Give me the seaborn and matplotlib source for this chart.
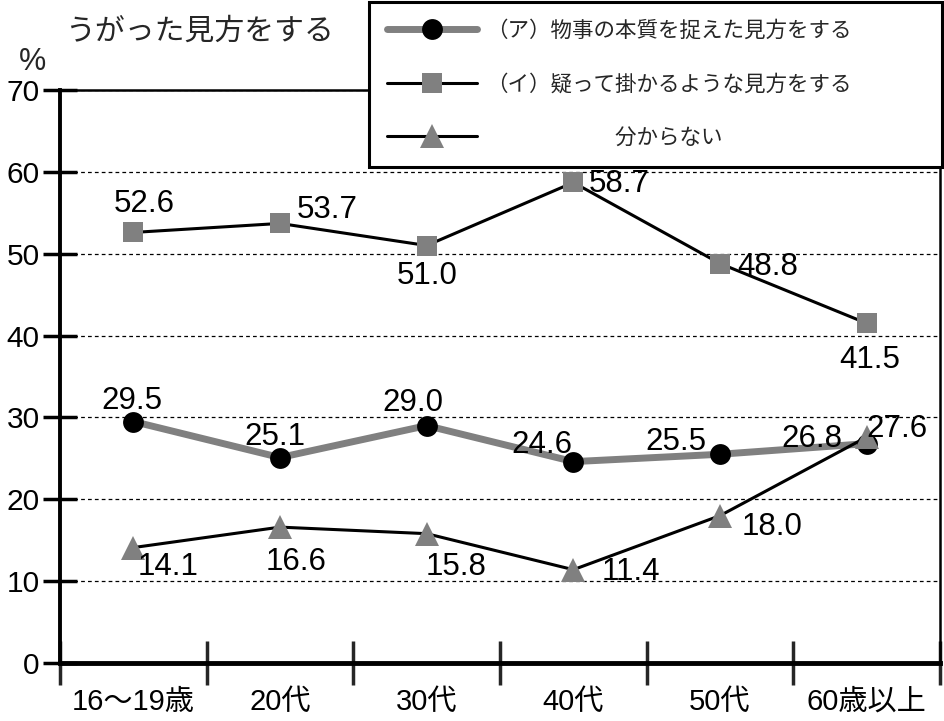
import pandas as pd
import matplotlib.pyplot as plt
import seaborn as sns

# ── データ ────────────────────────────────────────────────────────────────
ages = ["16〜19歳", "20代", "30代", "40代", "50代", "60歳以上"]
vals_a = [29.5, 25.1, 29.0, 24.6, 25.5, 26.8]   # (ア) 物事の本質を捉えた見方をする
vals_i = [52.6, 53.7, 51.0, 58.7, 48.8, 41.5]   # (イ) 疑って掛かるような見方をする
vals_u = [14.1, 16.6, 15.8, 11.4, 18.0, 27.6]   # 分からない
y_ticks = [0, 10, 20, 30, 40, 50, 60, 70]

label_a = "（ア）物事の本質を捉えた見方をする"
label_i = "（イ）疑って掛かるような見方をする"
label_u = "分からない"

# ラベル位置のずらし (pixel, 右/上が正)
off_a = [(-1, 21), (-5, 21), (-14, 23), (-31, 17), (-44, 12), (-55, 5)]
off_i = [(11, 28), (47, 13), (0, -30), (46, -2), (48, -3), (3, -37)]
off_u = [(35, -19), (16, -35), (29, -33), (58, -2), (52, -11), (30, 8)]

df = pd.DataFrame({"age": ages, "a": vals_a, "i": vals_i, "u": vals_u})

# ── スタイル ─────────────────────────────────────────────────────────────
sns.set_theme(style="white")
FONTS = ["Liberation Sans", "Noto Sans CJK JP"]
JP = ["Noto Sans CJK JP", "DejaVu Sans"]
plt.rcParams["font.family"] = FONTS

GRAY = "#808080"

fig = plt.figure(figsize=(9.45, 7.21), dpi=100)
ax = fig.add_axes([60 / 945, 1 - 663 / 721, 880 / 945, 573 / 721])

sns.lineplot(data=df, x="age", y="a", ax=ax, sort=False, errorbar=None,
             color=GRAY, linewidth=5, marker="o", markersize=15,
             markerfacecolor="black", markeredgecolor="black",
             markeredgewidth=0, label=label_a, zorder=3)
sns.lineplot(data=df, x="age", y="i", ax=ax, sort=False, errorbar=None,
             color="black", linewidth=2.2, marker="s", markersize=15,
             markerfacecolor=GRAY, markeredgecolor=GRAY,
             markeredgewidth=0, label=label_i, zorder=4)
sns.lineplot(data=df, x="age", y="u", ax=ax, sort=False, errorbar=None,
             color="black", linewidth=2.2, marker="^", markersize=17,
             markerfacecolor=GRAY, markeredgecolor=GRAY,
             markeredgewidth=0, label="\u3000" * 6 + label_u, zorder=5)

# 数値ラベル
for vals, offs in [(vals_a, off_a), (vals_i, off_i), (vals_u, off_u)]:
    for k, (v, (dx, dy)) in enumerate(zip(vals, offs)):
        ax.annotate(f"{v:.1f}", (k, v), xytext=(dx, dy),
                    textcoords="offset pixels", ha="center", va="center",
                    fontsize=22.5, color="black", zorder=6)

# ── 軸 ───────────────────────────────────────────────────────────────────
ax.set_xlim(-0.5, 5.5)
ax.set_ylim(0, 70)
ax.set_yticks(y_ticks)
ax.set_yticklabels([str(t) for t in y_ticks], fontsize=21.5)
ax.set_xticks([k - 0.5 for k in range(len(ages) + 1)])
ax.set_xticklabels([])
ax.set_xticks(range(len(ages)), minor=True)
ax.set_xticklabels(ages, minor=True, fontsize=21)
ax.tick_params(axis="y", direction="inout", length=25, width=2.5, pad=2,
               left=True, colors="black")
ax.tick_params(axis="x", which="major", direction="inout", length=31,
               width=2.5, bottom=True)
ax.tick_params(axis="x", which="minor", length=0, pad=18, colors="black")
ax.set_xlabel("")
ax.set_ylabel("")

for side, lw in [("left", 2.8), ("bottom", 3.5), ("top", 1.8), ("right", 1.8)]:
    ax.spines[side].set_visible(True)
    ax.spines[side].set_color("black")
    ax.spines[side].set_linewidth(lw)

ax.yaxis.grid(True, color="black", linestyle=(0, (3, 2.5)), linewidth=0.9)
ax.xaxis.grid(False)
ax.set_axisbelow(True)

# ── 凡例 ─────────────────────────────────────────────────────────────────
leg = ax.legend(loc="upper left",
                bbox_to_anchor=(369 / 945, 1 - 162 / 721, 573 / 945, 160 / 721),
                bbox_transform=fig.transFigure, mode="expand",
                borderaxespad=0, frameon=True, fancybox=False, framealpha=1,
                edgecolor="black", handlelength=4.2, handletextpad=0.4,
                borderpad=0.82, labelspacing=1.47, numpoints=1,
                prop={"family": JP, "size": 15.5})
leg.get_frame().set_linewidth(2.2)
leg.set_zorder(10)

fig.text(65 / 945, 1 - 31 / 721, "うがった見方をする", family=JP,
         fontsize=21.5, ha="left", va="center")
fig.text(32 / 945, 1 - 62 / 721, "%", fontsize=22, ha="center",
         va="center")

plt.savefig("out.png", dpi=100)
plt.close()
